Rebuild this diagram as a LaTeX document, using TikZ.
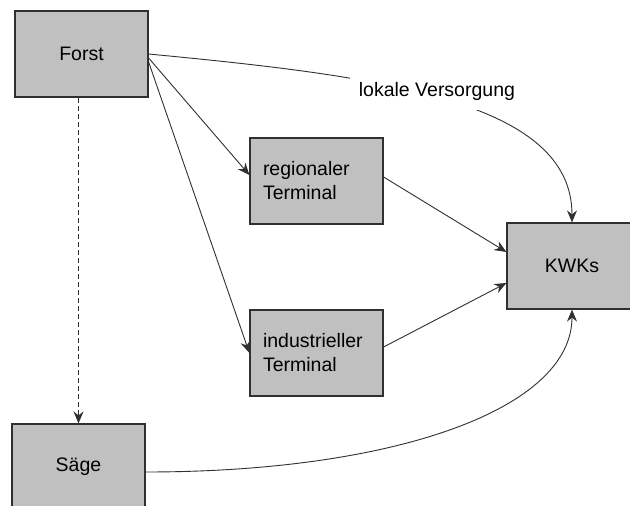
\documentclass[tikz,border=0pt]{standalone}
\usepackage{fontspec}
\setmainfont{Liberation Sans}
\usepackage{tikz}
\usetikzlibrary{positioning,arrows.meta}
\definecolor{boxgray}{HTML}{C0C0C0}
\definecolor{edgegray}{HTML}{303030}
\tikzstyle{box} = [rectangle, font=\fontsize{19.5pt}{24pt}\selectfont, minimum width=133pt, minimum height=86pt, inner sep=0pt, text centered, draw=edgegray, line width=1.2pt, fill=boxgray]
\tikzstyle{terminal} = [rectangle, font=\fontsize{19.5pt}{24pt}\selectfont, minimum height=86pt, text width=107pt, inner xsep=13pt, align=left, draw=edgegray, line width=1.2pt, fill=boxgray]
\tikzstyle{arrow} = [line width=0.9pt, draw=edgegray, ->, >={Stealth[length=12pt, width=10pt, inset=4pt]}]

\begin{document}
\begin{tikzpicture}[x=1pt, y=-1pt]
\clip (0,0) rectangle (630,506);
\node (forst) [box] at (81.5,54) {Forst};
\node (saege) [box] at (78.5,467) {Säge};
\node (regTerm) [terminal] at (316.5,181) {regionaler\\Terminal};
\node (indTerm) [terminal, node distance=172pt, below of=regTerm] {industrieller\\Terminal};
\node (kwk) [box, minimum width=130pt] at (572,266) {KWKs};

\draw [arrow] (forst.east) .. controls (378,76) and (572,100) .. node[pos=0.48, yshift=6pt, fill=white, inner sep=9pt, font=\fontsize{19.5pt}{24pt}\selectfont] {lokale Versorgung} (kwk.north);
\draw [arrow] ([yshift=-4pt]forst.east) -- ([yshift=6pt]regTerm.west);
\draw [arrow] ([yshift=-8pt]forst.east) -- (indTerm.west);
\draw [arrow, dash pattern=on 5pt off 3pt] (forst.south -| saege.north) -- (saege.north);
\draw [arrow] ([yshift=4pt]regTerm.east) -- ([yshift=14pt]kwk.west);
\draw [arrow] ([yshift=6pt]indTerm.east) -- ([yshift=-17pt]kwk.west);
\draw [arrow] ([yshift=-5pt]saege.east) .. controls (395,472) and (572,409) .. (kwk.south);
\end{tikzpicture}
\end{document}
